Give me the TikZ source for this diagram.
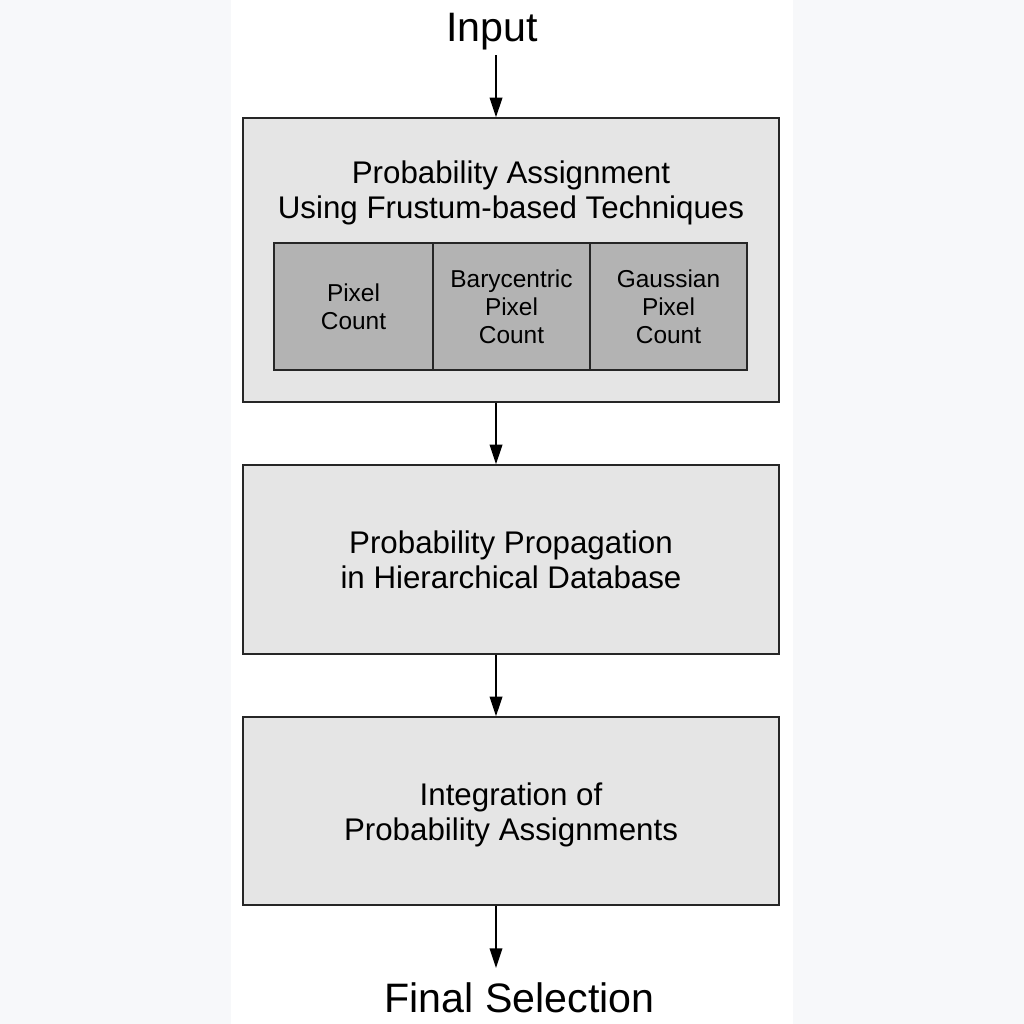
\documentclass[tikz,border=0pt]{standalone}
\usepackage{fontspec}
\setmainfont{Liberation Sans}
\usetikzlibrary{arrows.meta}
\definecolor{sidebg}{HTML}{F7F8FA}
\definecolor{boxfill}{HTML}{E5E5E5}
\definecolor{cellfill}{HTML}{B3B3B3}
\tikzset{
  bigbox/.style={draw=black!85, line width=0.55pt, fill=boxfill},
  cellbox/.style={draw=black!85, line width=0.45pt, fill=cellfill},
  maintxt/.style={inner sep=0pt, align=center, font=\fontsize{8.9}{9.96}\selectfont},
  celltxt/.style={inner sep=0pt, align=center, font=\fontsize{6.95}{7.97}\selectfont},
  endtxt/.style={inner sep=0pt, font=\fontsize{11.7}{14}\selectfont},
  arr/.style={draw=black, line width=0.45pt, -{Triangle[length=5.6pt,width=3.6pt]}},
}
\begin{document}
\begin{tikzpicture}[x=0.01cm,y=-0.01cm]
\useasboundingbox (0,0) rectangle (1024,1024);
\fill[sidebg] (0,0) rectangle (1024,1024);
\fill[white] (231,0) rectangle (793,1024);
% boxes
\draw[bigbox] (243,118) rectangle (779,402);
\node[inner sep=0pt, minimum width=536*0.01cm, minimum height=284*0.01cm] (b1) at (511,260) {};
\draw[bigbox] (243,465) rectangle (779,654);
\node[inner sep=0pt, minimum width=536*0.01cm, minimum height=189*0.01cm] (b2) at (511,559.5) {};
\draw[bigbox] (243,717) rectangle (779,905);
\node[inner sep=0pt, minimum width=536*0.01cm, minimum height=188*0.01cm] (b3) at (511,811) {};
% cells
\draw[cellbox] (274,243) rectangle (433,370);
\draw[cellbox] (433,243) rectangle (590,370);
\draw[cellbox] (590,243) rectangle (747,370);
\node[celltxt] (c1) at (353.5,307) {Pixel\\Count};
\node[celltxt] (c2) at (511.5,307) {Barycentric\\Pixel\\Count};
\node[celltxt] (c3) at (668.5,307) {Gaussian\\Pixel\\Count};
% texts
\node[maintxt] (t1) at (511,193) {Probability Assignment\\Using Frustum-based Techniques};
\node[maintxt] (t2) at (511,560) {Probability Propagation\\in Hierarchical Database};
\node[maintxt] (t3) at (511,815) {Integration of\\Probability Assignments};
\node[endtxt] (in) at (492,32) {Input};
\node[endtxt] (out) at (519.5,998) {Final Selection};
% arrows
\coordinate (ax) at (496,0);
\draw[arr] (496,55) -- (b1.north -| ax);
\draw[arr] (b1.south -| ax) -- (b2.north -| ax);
\draw[arr] (b2.south -| ax) -- (b3.north -| ax);
\draw[arr] (b3.south -| ax) -- (496,968);
\end{tikzpicture}
\end{document}
